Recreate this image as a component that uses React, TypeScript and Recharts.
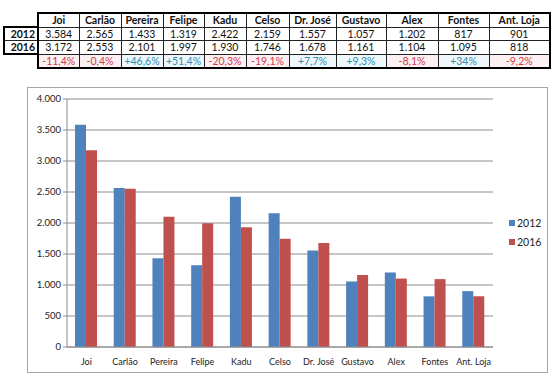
import { BarChart, Bar, XAxis, YAxis, CartesianGrid } from 'recharts';

const names = ['Joi', 'Carlão', 'Pereira', 'Felipe', 'Kadu', 'Celso', 'Dr. José', 'Gustavo', 'Alex', 'Fontes', 'Ant. Loja'];
const values2012 = [3584, 2565, 1433, 1319, 2422, 2159, 1557, 1057, 1202, 817, 901];
const values2016 = [3172, 2553, 2101, 1997, 1930, 1746, 1678, 1161, 1104, 1095, 818];
const changes = ['-11,4%', '-0,4%', '+46,6%', '+51,4%', '-20,3%', '-19,1%', '+7,7%', '+9,3%', '-8,1%', '+34%', '-9,2%'];
const yTicks = [0, 500, 1000, 1500, 2000, 2500, 3000, 3500, 4000];

const colWidths = [34, 41, 42, 42, 41, 42, 43, 47, 50, 52, 51, 61];
const BLUE = '#4f81bd';
const RED = '#c0504d';
const FONT = 'Lato, "Open Sans", sans-serif';

const fmt = (v: number) => String(v).replace(/\B(?=(\d{3})+(?!\d))/g, '.');

const data = names.map((name, i) => ({ name, '2012': values2012[i], '2016': values2016[i] }));

const thin = '1px solid #222';
const thick = '2px solid #000';

function StatsTable() {
  const last = names.length - 1;
  const cell = (i: number, top: boolean, bottom: boolean): React.CSSProperties => ({
    borderTop: top ? thick : thin,
    borderBottom: bottom ? thick : thin,
    borderLeft: i === 0 ? thick : thin,
    borderRight: i === last ? thick : thin,
    padding: 0,
    textAlign: 'center',
    overflow: 'hidden',
    whiteSpace: 'nowrap',
  });
  const label = (top: boolean, bottom: boolean): React.CSSProperties => ({
    borderTop: top ? thick : thin,
    borderBottom: bottom ? thick : thin,
    borderLeft: thick,
    borderRight: thin,
    padding: '0 2px 0 0',
    textAlign: 'right',
    fontWeight: 700,
  });
  return (
    <table
      style={{
        position: 'absolute',
        left: 3,
        top: 12,
        borderCollapse: 'collapse',
        tableLayout: 'fixed',
        width: colWidths.reduce((a, b) => a + b, 0),
        fontFamily: FONT,
        fontSize: 10.5,
        color: '#111',
        lineHeight: '12px',
      }}
    >
      <colgroup>
        {colWidths.map((w, i) => (
          <col key={i} style={{ width: w }} />
        ))}
      </colgroup>
      <tbody>
        <tr style={{ height: 14 }}>
          <td style={{ border: 'none' }} />
          {names.map((n, i) => (
            <td key={n} style={{ ...cell(i, true, false), fontWeight: 700 }}>{n}</td>
          ))}
        </tr>
        <tr style={{ height: 13 }}>
          <td style={label(true, false)}>2012</td>
          {values2012.map((v, i) => (
            <td key={i} style={cell(i, false, false)}>{fmt(v)}</td>
          ))}
        </tr>
        <tr style={{ height: 13 }}>
          <td style={label(false, true)}>2016</td>
          {values2016.map((v, i) => (
            <td key={i} style={cell(i, false, false)}>{fmt(v)}</td>
          ))}
        </tr>
        <tr style={{ height: 14 }}>
          <td style={{ border: 'none' }} />
          {changes.map((c, i) => (
            <td
              key={i}
              style={{
                ...cell(i, false, true),
                color: c.startsWith('-') ? '#d23a4c' : '#2f8fb3',
                background: c.startsWith('-') ? '#fdf0f2' : '#eef7fb',
              }}
            >
              {c}
            </td>
          ))}
        </tr>
      </tbody>
    </table>
  );
}

function LegendBox() {
  return (
    <div style={{ position: 'absolute', left: 481, top: 125, fontFamily: FONT, fontSize: 10.5, color: '#222' }}>
      {[
        ['2012', BLUE],
        ['2016', RED],
      ].map(([label, color]) => (
        <div key={label} style={{ display: 'flex', alignItems: 'center', height: 19 }}>
          <span style={{ display: 'inline-block', width: 6, height: 6, background: color, marginRight: 2 }} />
          <span>{label}</span>
        </div>
      ))}
    </div>
  );
}

export default function App() {
  return (
    <div style={{ position: 'absolute', left: 0, top: 0, width: 560, height: 387, background: '#fff' }}>
      <StatsTable />
      <div
        style={{
          position: 'absolute',
          left: 27,
          top: 87,
          width: 521,
          height: 286,
          border: '1px solid #a6a6a6',
          boxSizing: 'border-box',
        }}
      >
        <BarChart
          width={519}
          height={284}
          data={data}
          margin={{ top: 11, right: 54, bottom: 4, left: 0 }}
          barGap={0}
          barSize={11}
        >
          <CartesianGrid vertical={false} stroke="#8c8c8c" strokeWidth={1} />
          <XAxis
            dataKey="name"
            height={21}
            interval={0}
            tickLine={false}
            axisLine={{ stroke: '#8c8c8c' }}
            tick={{ fill: '#222', fontSize: 9, fontFamily: FONT }}
            tickMargin={6}
          />
          <YAxis
            width={39}
            domain={[0, 4000]}
            ticks={yTicks}
            tickFormatter={fmt}
            axisLine={{ stroke: '#8c8c8c' }}
            tickLine={{ stroke: '#8c8c8c' }}
            tickSize={4}
            tick={{ fill: '#222', fontSize: 9.5, fontFamily: FONT }}
          />
          <Bar dataKey="2012" fill={BLUE} isAnimationActive={false} />
          <Bar dataKey="2016" fill={RED} isAnimationActive={false} />
        </BarChart>
        <LegendBox />
      </div>
    </div>
  );
}
